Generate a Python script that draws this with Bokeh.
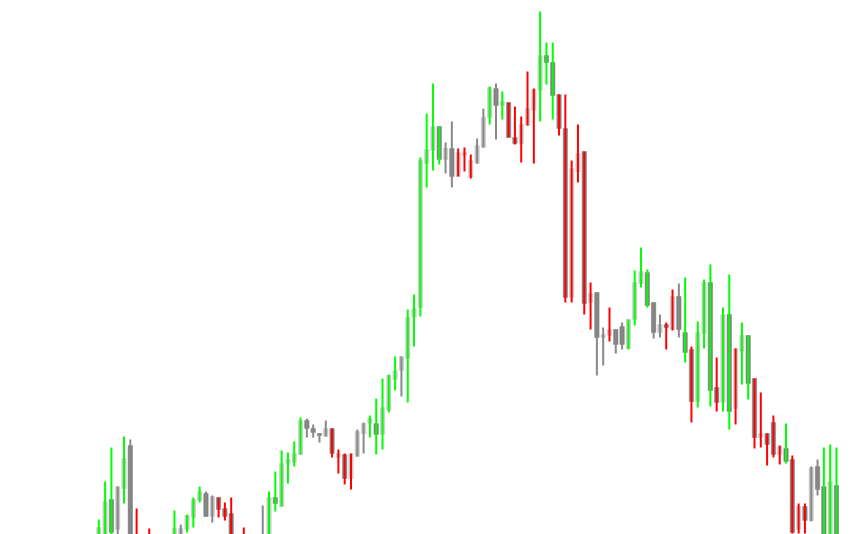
from bokeh.plotting import figure
from bokeh.models import ColumnDataSource, Range1d
from bokeh.embed import file_html
from bokeh.resources import INLINE

# OHLC values (price units), one per session
opens = [1.5, 2.0, 6.1, 3.1, 7.2, 11.5, 2.0, 1.5, 2.0, 0.5,
         1.0, 1.6, 1.8, 2.4, 3.1, 4.3, 6.0, 6.7, 4.4, 6.3,
         5.2, 4.7, 1.2, 2.2, 1.2, 0.6, 1.6, 1.5, 6.3, 5.4,
         9.7, 9.8, 10.6, 14.0, 13.2, 12.7, 12.4, 13.2, 10.3, 10.6,
         8.2, 10.4, 12.7, 13.7, 13.7, 12.6, 15.0, 18.1, 19.0, 20.2,
         24.3, 25.3, 39.7, 41.0, 43.4, 40.1, 41.2, 38.4, 40.5, 38.3,
         39.7, 41.3, 44.3, 47.2, 45.5, 45.8, 42.3, 41.7, 43.5, 45.0,
         47.0, 50.5, 49.8, 46.6, 43.2, 26.3, 38.9, 40.9, 25.8, 26.8,
         22.3, 22.5, 23.1, 23.4, 21.2, 24.1, 27.7, 28.8, 25.8, 22.8,
         23.6, 23.1, 26.4, 22.8, 21.1, 15.9, 22.7, 27.8, 17.3, 15.8,
         24.6, 15.2, 20.9, 22.5, 18.2, 12.3, 12.7, 13.8, 10.6, 11.2,
         10.1, 3.1, 5.4, 4.0, 9.4, 7.4, 1.5, 7.5]
highs = [4.1, 7.9, 11.3, 7.4, 12.4, 12.1, 5.2, 2.2, 3.2, 2.0,
         2.3, 2.5, 5.0, 3.6, 4.6, 6.3, 7.4, 6.9, 6.5, 6.3,
         5.8, 6.3, 2.4, 3.3, 1.8, 2.2, 5.5, 6.9, 8.9, 11.0,
         10.8, 11.9, 14.3, 14.2, 13.6, 12.7, 14.0, 13.2, 11.1, 10.7,
         10.7, 13.1, 13.8, 14.5, 16.2, 18.2, 18.6, 20.4, 20.4, 25.1,
         26.6, 40.3, 44.7, 47.7, 43.4, 41.8, 43.9, 41.2, 41.3, 40.6,
         42.2, 45.2, 47.4, 47.7, 46.9, 45.8, 45.4, 44.4, 48.9, 47.2,
         54.9, 51.8, 51.8, 46.6, 46.6, 40.0, 43.6, 40.9, 27.8, 26.8,
         23.3, 25.3, 23.1, 23.8, 24.1, 29.0, 31.3, 29.1, 25.8, 24.6,
         23.8, 27.1, 27.7, 28.3, 21.4, 23.9, 28.1, 29.6, 20.3, 25.3,
         28.6, 21.2, 23.8, 22.5, 18.2, 16.8, 12.7, 14.5, 11.5, 13.7,
         10.5, 5.7, 5.7, 9.4, 10.1, 11.3, 11.6, 11.3]
lows = [1.0, 1.2, 2.0, 2.0, 5.7, 0.5, 0.0, -0.6, 0.2, 0.0,
        0.4, 0.9, 1.2, 2.0, 2.8, 3.3, 5.8, 4.4, 3.8, 4.3,
        4.0, 0.8, 0.6, 0.8, 0.2, 0.3, 1.2, 1.2, 4.9, 5.4,
        7.7, 9.4, 10.6, 12.3, 12.3, 11.8, 12.4, 10.3, 8.7, 7.6,
        7.1, 10.4, 10.7, 12.3, 10.6, 11.1, 14.8, 17.0, 16.4, 15.8,
        21.4, 24.4, 37.3, 39.0, 39.6, 38.7, 37.3, 38.4, 38.9, 38.2,
        39.7, 41.3, 43.6, 42.1, 44.1, 42.3, 41.6, 39.8, 43.5, 39.7,
        43.9, 47.6, 44.1, 42.5, 25.8, 25.8, 37.8, 24.6, 23.1, 18.5,
        19.5, 21.9, 20.7, 21.1, 21.1, 23.5, 27.3, 25.3, 22.2, 22.3,
        21.1, 23.0, 22.3, 19.8, 13.8, 15.3, 21.2, 15.4, 14.9, 14.9,
        13.1, 13.6, 17.6, 16.1, 11.2, 11.3, 9.5, 10.3, 9.6, 9.7,
        2.7, 2.7, 2.7, 3.9, 6.5, 1.0, 1.0, 1.0]
closes = [3.3, 5.9, 2.8, 7.4, 10.2, 1.0, 0.5, 0.0, 0.8, 1.5,
          1.8, 2.2, 3.2, 3.2, 4.5, 6.1, 6.9, 4.4, 6.4, 5.1,
          4.4, 1.2, 2.0, 1.2, 0.6, 1.8, 2.4, 6.3, 5.7, 9.7,
          10.1, 10.7, 14.0, 13.2, 12.8, 12.5, 13.2, 10.7, 10.7, 8.2,
          10.7, 12.9, 13.7, 14.2, 12.6, 15.3, 18.5, 19.0, 20.4, 24.3,
          25.2, 40.0, 41.1, 43.4, 40.1, 41.2, 38.4, 40.8, 40.8, 40.0,
          41.5, 44.3, 47.3, 45.5, 45.9, 42.3, 41.7, 43.6, 45.2, 47.1,
          50.5, 49.8, 46.5, 43.2, 26.3, 39.2, 40.7, 25.7, 26.7, 22.3,
          22.6, 23.1, 21.6, 21.6, 24.1, 27.8, 28.9, 25.5, 22.8, 23.6,
          23.3, 26.4, 23.1, 20.8, 15.9, 22.8, 27.8, 17.0, 15.8, 24.6,
          14.9, 21.2, 22.5, 17.7, 12.3, 12.7, 11.6, 10.6, 11.4, 9.9,
          2.8, 5.4, 4.0, 9.3, 7.1, 1.5, 7.9, 1.5]
# wick signal per session: g = positive, r = negative, n = neutral
signal = list("gggngnrrrngngngggnnrrrnrrnnggggggnnnnrrrrnngggggnggggggnnrrrnngngrrrrrgggrrrrrrnnrnnggggnnrrngrgggrggrggrrrrrgrrrnnggg")

WICK = {"g": "#00ff00", "r": "#ff0000", "n": "#888888"}
UP_BODY = "#c8c8c8"
DOWN_BODY = "#808080"

idx = list(range(len(opens)))
src = ColumnDataSource(dict(
    x=idx,
    high=highs,
    low=lows,
    top=[max(o, c) for o, c in zip(opens, closes)],
    bottom=[min(o, c) for o, c in zip(opens, closes)],
    body=[UP_BODY if c >= o else DOWN_BODY for o, c in zip(opens, closes)],
    wick=[WICK[s] for s in signal],
))

p = figure(width=855, height=534, output_backend="svg", toolbar_location=None,
           x_range=Range1d(-15.59, 120.02), y_range=Range1d(2.6, 56.0),
           x_axis_location=None, y_axis_location=None, min_border=0)
p.grid.visible = False
p.outline_line_color = None
p.background_fill_color = "white"
p.border_fill_color = "white"

p.vbar(x="x", width=0.7, top="top", bottom="bottom", fill_color="body",
       line_color="body", line_width=0.5, source=src)
p.segment(x0="x", y0="high", x1="x", y1="low", line_color="wick",
          line_width=2, source=src)

open("out.html", "w").write(file_html(p, INLINE))
